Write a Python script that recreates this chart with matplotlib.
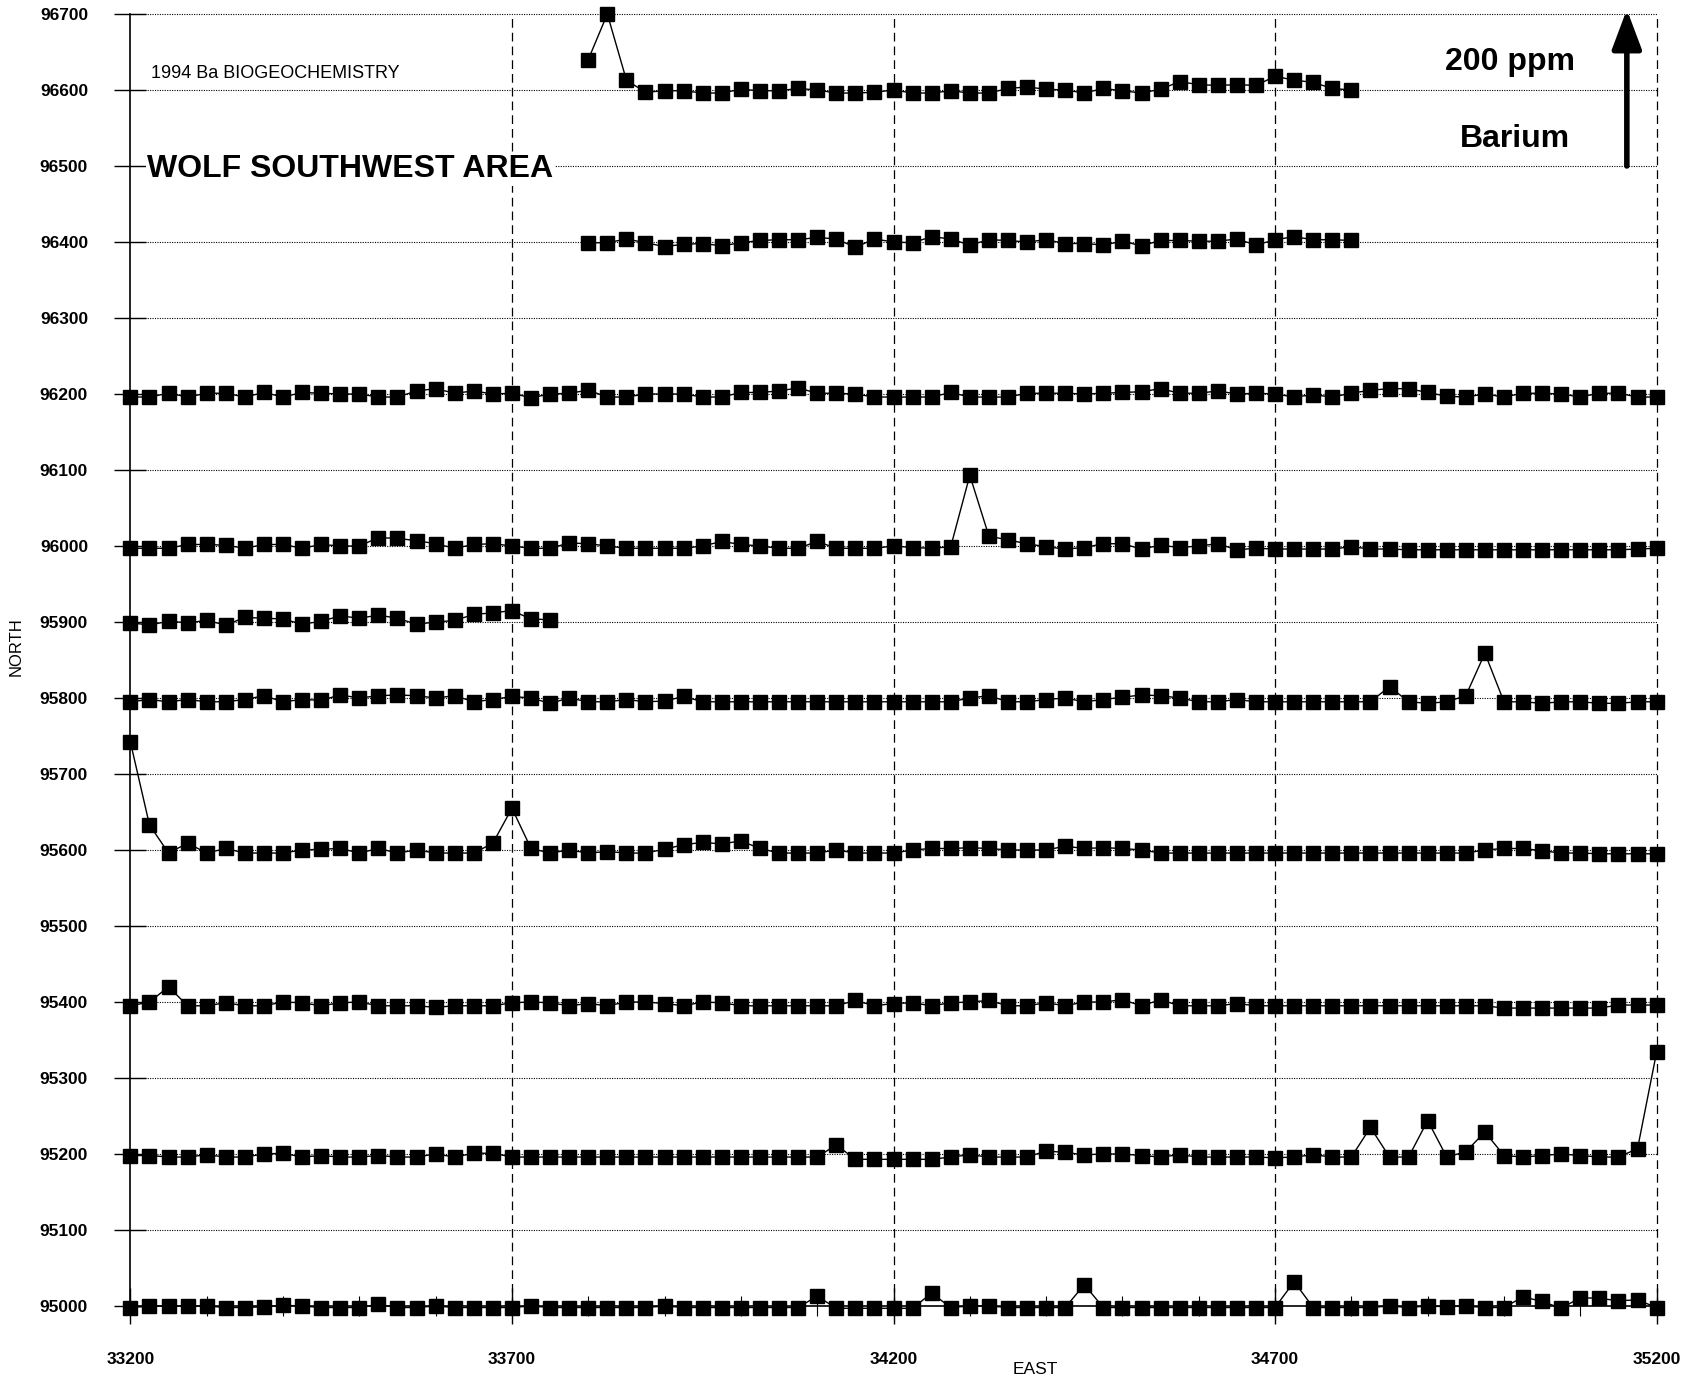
import numpy as np
import matplotlib
matplotlib.use("Agg")
import matplotlib.pyplot as plt
from matplotlib.ticker import MultipleLocator

plt.rcParams['font.family'] = ['Liberation Sans', 'DejaVu Sans']

# Sample spacing along each east-west traverse (m)
STATION_SPACING = 25

# Traverse northings and east extents
north_lines = [96600, 96400, 96200, 96000, 95900, 95800, 95600, 95400, 95200, 95000]
east_start = [33800, 33800, 33200, 33200, 33200, 33200, 33200, 33200, 33200, 33200]
east_end = [34800, 34800, 35200, 35200, 33750, 35200, 35200, 35200, 35200, 35200]

# Ba anomaly (ppm) plotted as a vertical offset above each traverse (1 ppm = 1 m)
ba_96600 = [40, 100, 13, -3, -1, -1, -4, -4, 1, -1, -1, 2, 0, -4, -4, -3, 0, -4, -4, -1,
            -4, -4, 2, 4, 1, 0, -4, 2, -1, -4, 1, 11, 7, 6, 7, 6, 18, 13, 10, 2, 0]
ba_96400 = [-1, -1, 4, -1, -6, -3, -2, -5, -1, 2, 3, 3, 6, 4, -7, 4, 0, -1, 7, 4,
            -4, 3, 2, 0, 3, -2, -2, -4, 1, -5, 2, 2, 1, 1, 4, -4, 3, 7, 3, 3, 2]
ba_96200 = [-4, -4, 1, -4, 1, 1, -4, 2, -4, 2, 1, 0, 0, -4, -4, 4, 7, 1, 4, 0,
            1, -5, 0, 1, 5, -4, -4, 0, 0, 0, -4, -4, 2, 2, 4, 8, 1, 1, 0, -4,
            -4, -4, -4, 2, -4, -4, -4, 1, 1, 1, 0, 1, 2, 3, 7, 1, 1, 4, 0, 1,
            0, -4, -1, -4, 1, 5, 7, 7, 2, -3, -4, 0, -4, 1, 1, 0, -4, 1, 1, -4, -4]
ba_96000 = [-3, -3, -3, 2, 2, 1, -3, 2, 2, -3, 2, 0, 0, 11, 10, 7, 3, -3, 2, 3,
            0, -3, -3, 4, 3, 0, -3, -3, -3, -3, 0, 6, 2, 0, -3, -3, 6, -3, -3, -3,
            0, -2, -3, -1, 93, 13, 8, 3, -1, -4, -2, 3, 3, -4, 1, -2, 0, 3, -5, -3,
            -4, -4, -4, -4, -1, -4, -4, -5, -5, -5, -5, -5, -5, -5, -5, -5, -5, -5, -5, -4, -3]
ba_95900 = [-1, -4, 1, -1, 2, -4, 6, 5, 4, -3, 1, 8, 5, 9, 5, -3, 0, 2, 10, 12, 15, 4, 3]
ba_95800 = [-5, -2, -5, -2, -5, -5, -2, 3, -5, -2, -3, 4, 0, 3, 4, 3, 0, 3, -5, -2,
            2, 0, -7, 0, -5, -5, -2, -5, -4, 2, -5, -5, -5, -5, -5, -5, -5, -5, -5, -5,
            -5, -5, -5, -5, 0, 3, -5, -5, -2, 0, -5, -2, 1, 4, 3, 0, -5, -5, -2, -5,
            -5, -5, -5, -5, -5, -5, 15, -5, -7, -5, 3, 59, -5, -5, -7, -5, -5, -7, -7, -5, -5]
ba_95600 = [142, 33, -4, 9, -4, 2, -4, -4, -4, 0, 1, 2, -4, 2, -4, 0, -4, -4, -4, 9,
            55, 2, -4, 0, -4, -2, -4, -4, 1, 7, 10, 8, 12, 2, -4, -4, -4, 0, -4, -4,
            -4, 0, 2, 2, 3, 2, 0, 0, 0, 5, 2, 3, 2, 0, -4, -4, -4, -4, -4, -4,
            -4, -4, -4, -4, -4, -4, -4, -4, -4, -4, -4, 0, 2, 2, -1, -4, -4, -5, -5, -5, -5]
ba_95400 = [-5, 0, 20, -5, -5, -1, -5, -5, 0, -1, -5, -1, 0, -5, -5, -5, -7, -5, -5, -5,
            -1, 0, -1, -5, -2, -5, 0, 0, -2, -5, 0, -1, -5, -5, -5, -5, -5, -5, 2, -5,
            -2, -1, -5, -1, 0, 2, -5, -5, -1, -5, 0, 0, 3, -5, 3, -5, -5, -5, -2, -5,
            -5, -5, -5, -5, -5, -5, -5, -5, -5, -5, -5, -5, -8, -8, -8, -8, -8, -8, -4, -4, -4]
ba_95200 = [-2, -2, -4, -4, -1, -4, -4, 0, 1, -4, -2, -4, -4, -2, -4, -4, 0, -4, 1, 1,
            -4, -4, -4, -4, -4, -4, -4, -4, -4, -4, -4, -4, -4, -4, -4, -4, -4, 12, -7, -7,
            -7, -7, -7, -4, -1, -4, -4, -4, 4, 2, -1, 0, 0, -2, -4, -1, -4, -4, -4, -4,
            -5, -4, -1, -4, -4, 35, -4, -4, 44, -4, 3, 29, -2, -4, -2, 0, -2, -4, -4, 7, 134]
ba_95000 = [-2, 0, 0, 0, 0, -2, -2, -1, 1, 0, -2, -2, -2, 2, -2, -2, 0, -2, -2, -2,
            -2, 0, -2, -2, -2, -2, -2, -2, 0, -2, -2, -2, -2, -2, -2, -2, 13, -3, -3, -3,
            -3, -3, 17, -2, 0, 0, -2, -2, -2, -2, 28, -2, -2, -2, -2, -2, -2, -2, -2, -2,
            -2, 32, -2, -2, -2, -2, 0, -2, 0, -1, 0, -2, -2, 12, 6, -3, 11, 10, 7, 8, -2]

ba_profiles = [ba_96600, ba_96400, ba_96200, ba_96000, ba_95900,
               ba_95800, ba_95600, ba_95400, ba_95200, ba_95000]

# Axis ticks
x_major = [33200, 33700, 34200, 34700, 35200]
y_major = list(range(95000, 96701, 100))

fig = plt.figure(figsize=(16.9, 13.84), dpi=100)
ax = fig.add_axes([0.07716, 0.05636, 0.90308, 0.93353])
ax.set_xlim(33200, 35200)
ax.set_ylim(95000, 96700)

# Reference grid: dotted northings, dashed eastings
for y in y_major[1:]:
    ax.axhline(y, color='black', lw=0.8, ls=(0, (1, 1.2)), zorder=1, clip_on=False)
for x in x_major[1:]:
    ax.axvline(x, color='black', lw=0.9, ls=(0, (7, 4)), zorder=1, clip_on=False)

# Profiles
for north, x0, x1, vals in zip(north_lines, east_start, east_end, ba_profiles):
    east = np.arange(x0, x1 + 1, STATION_SPACING)
    ax.plot(east, north + np.asarray(vals), color='black', lw=1.0,
            marker='s', ms=9.5, mfc='black', mec='black', zorder=3, clip_on=False)

for side in ('top', 'right'):
    ax.spines[side].set_visible(False)
ax.spines['left'].set_linewidth(1.2)
ax.spines['bottom'].set_linewidth(1.2)

ax.set_xticks(x_major)
ax.xaxis.set_minor_locator(MultipleLocator(100))
ax.set_yticks(y_major)
ax.tick_params(axis='y', direction='inout', length=23, width=1.0, pad=19,
               labelsize=12.5)
ax.tick_params(axis='x', which='major', direction='inout', length=26, width=1.0,
               pad=20, labelsize=12.5)
ax.tick_params(axis='x', which='minor', direction='inout', length=15, width=0.8)
for lab in ax.get_xticklabels() + ax.get_yticklabels():
    lab.set_fontweight('bold')

# Annotations
ax.text(33227, 96616, '1994 Ba BIOGEOCHEMISTRY', fontsize=13, ha='left', va='baseline')
ax.text(33222, 96485, 'WOLF SOUTHWEST AREA', fontsize=23, fontweight='bold',
        ha='left', va='baseline',
        bbox=dict(facecolor='white', edgecolor='none', pad=1.0), zorder=4)
ax.text(35008, 96626, '200 ppm', fontsize=23, fontweight='bold', ha='center', va='baseline')
ax.text(35015, 96525, 'Barium', fontsize=23, fontweight='bold', ha='center', va='baseline')
ax.annotate('', xy=(35161, 96706), xytext=(35161, 96500), annotation_clip=False,
            arrowprops=dict(arrowstyle='-|>,head_length=1.2,head_width=0.45',
                            color='black', lw=4, shrinkA=0, shrinkB=0,
                            mutation_scale=20))

fig.text(1035 / 1690, 1 - 1369 / 1384, 'EAST', ha='center', va='center', fontsize=12.5)
fig.text(16 / 1690, 1 - 647 / 1384, 'NORTH', ha='center', va='center',
         fontsize=12, rotation=90)

fig.savefig('out.png', dpi=100)
